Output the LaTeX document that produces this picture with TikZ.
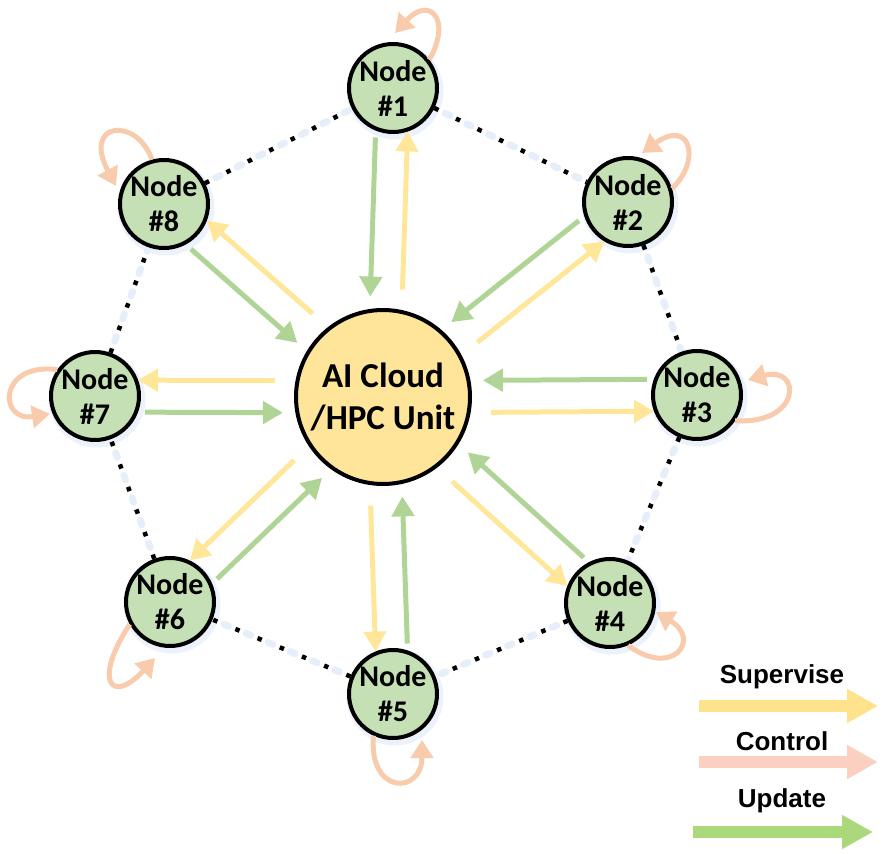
\documentclass[tikz,border=0pt]{standalone}
\usepackage{fontspec}
\setmainfont{Carlito}
\newfontfamily\legendfont{Liberation Sans}
\usetikzlibrary{arrows.meta,calc,backgrounds}
\definecolor{supc}{RGB}{255,230,153}
\definecolor{ctlc}{RGB}{248,203,173}
\definecolor{updc}{RGB}{175,212,150}
\definecolor{lsupc}{RGB}{255,226,140}
\definecolor{lctlc}{RGB}{251,208,192}
\definecolor{lupdc}{RGB}{170,216,122}
\definecolor{nodefill}{RGB}{197,224,180}
\definecolor{hubfill}{RGB}{255,229,153}
\definecolor{glowc}{RGB}{236,242,252}
\definecolor{bluedot}{RGB}{230,238,250}
\begin{document}
\begin{tikzpicture}[x=1pt,y=-1pt,
  nd/.style={circle,draw=black,line width=4pt,fill=nodefill,minimum size=88pt,inner sep=0pt,align=center,
    font=\bfseries\fontsize{30}{35}\selectfont},
  hub/.style={circle,draw=black,line width=4pt,fill=hubfill,minimum size=174pt,inner sep=0pt,align=center,
    font=\bfseries\fontsize{35}{42}\selectfont},
  suparr/.style={draw=supc,line width=5pt,-{Triangle[length=20pt,width=22pt]},shorten <=108pt,shorten >=43pt},
  updarr/.style={draw=updc,line width=5pt,-{Triangle[length=20pt,width=22pt]},shorten <=50pt,shorten >=100pt},
  selfarr/.style={draw=ctlc,line width=5pt,-{Triangle[length=18pt,width=22pt]}},
  dotl/.style={draw=black,line width=4.5pt,dash pattern=on 4.5pt off 19.5pt},
  bdotl/.style={draw=bluedot,line width=7pt,dash pattern=on 5pt off 19pt,dash phase=12pt,line cap=round},
  legtxt/.style={font=\legendfont\bfseries\fontsize{26}{30}\selectfont,anchor=base},
  legarr/.style={line width=12pt,-{Triangle[length=31pt,width=32pt]}}
]
\useasboundingbox (0,0) rectangle (885,853);

% nodes
\node[hub] (c) at (383,397) {AI Cloud\\/HPC Unit};
\node[nd] (n1) at (393,88) {Node\\\#1};
\node[nd] (n2) at (628,202) {Node\\\#2};
\node[nd] (n3) at (697,395) {Node\\\#3};
\node[nd] (n4) at (610,603) {Node\\\#4};
\node[nd] (n5) at (393,694) {Node\\\#5};
\node[nd] (n6) at (170,602) {Node\\\#6};
\node[nd] (n7) at (95,396) {Node\\\#7};
\node[nd] (n8) at (164,204) {Node\\\#8};

% ring and glow
\begin{scope}[on background layer]
  \foreach \i in {1,...,8}{\fill[glowc] ($(n\i.center)+(2,3)$) circle (48.5);}
  \foreach \a/\b in {n1/n2,n2/n3,n3/n4,n4/n5,n5/n6,n6/n7,n7/n8,n8/n1}{
    \draw[bdotl] (\a) -- (\b);
    \draw[dotl] (\a) -- (\b);
  }
\end{scope}

% supervise / update arrows
\foreach \n in {n1,n2,n3,n4,n5,n6,n7,n8}{
  \draw[suparr] ($(c.center)!16pt!-90:(\n.center)$) -- ($(\n.center)!16pt!90:(c.center)$);
  \draw[updarr] ($(\n.center)!16pt!-90:(c.center)$) -- ($(c.center)!16pt!90:(\n.center)$);
}

% self control loops
\draw[selfarr] (n1.38) .. controls (452,20) and (430,-5) .. (395,33);
\draw[selfarr] (n2.17) .. controls (702,160) and (690,118) .. (642,153);
\draw[selfarr] (n3.326) .. controls (802,425) and (802,365) .. (748,380);
\draw[selfarr] (n4.293) .. controls (672,678) and (702,640) .. (656,612);
\draw[selfarr] (n5.245) .. controls (368,795) and (422,795) .. (422,740);
\draw[selfarr] (n6.209) .. controls (92,682) and (112,705) .. (155,658);
\draw[selfarr] (n7.145) .. controls (-2,362) and (-2,422) .. (50,414);
\draw[selfarr] (n8.105) .. controls (136,116) and (82,122) .. (116,186);

% legend
\node[legtxt] (lsup) at (782,683) {Supervise};
\node[legtxt] (lctl) at (782,750) {Control};
\node[legtxt] (lupd) at (782,807) {Update};
\coordinate (sa) at (699,706); \coordinate (sb) at (878,706);
\coordinate (ca) at (699,762); \coordinate (cb) at (878,762);
\coordinate (ua) at (693,832); \coordinate (ub) at (873,832);
\draw[legarr,draw=lsupc,fill=lsupc] (sa) -- (sb);
\draw[legarr,draw=lctlc,fill=lctlc] (ca) -- (cb);
\draw[legarr,draw=lupdc,fill=lupdc] (ua) -- (ub);
\end{tikzpicture}
\end{document}
